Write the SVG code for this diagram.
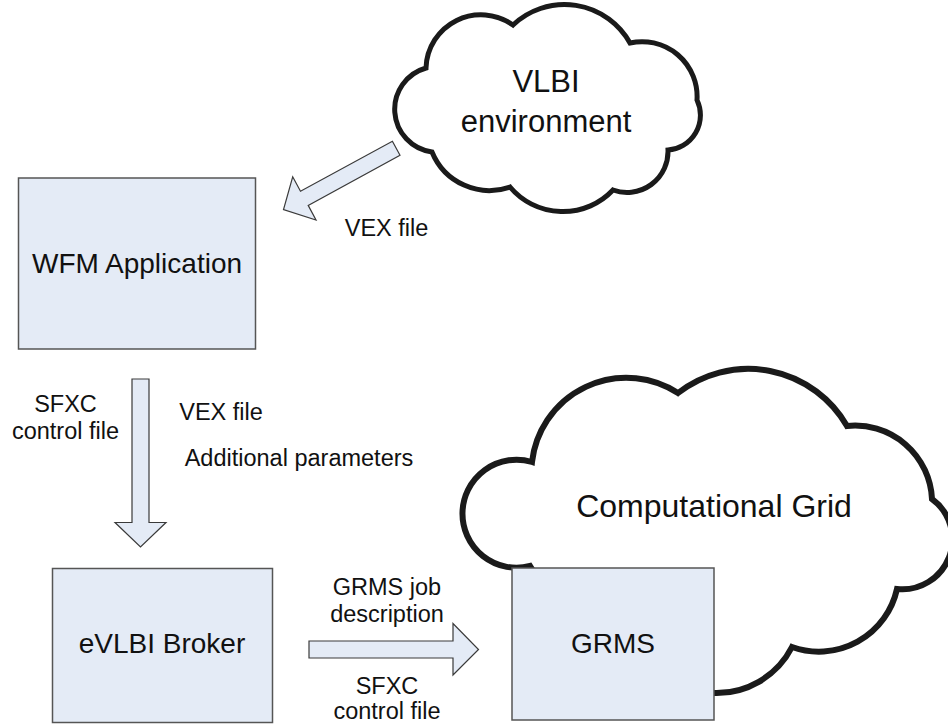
<svg xmlns="http://www.w3.org/2000/svg" width="948" height="724" viewBox="0 0 948 724">
  <style>
    text { font-family: "Liberation Sans", Arial, sans-serif; fill: #111; text-anchor: middle; }
    .big { font-size: 31px; }
    .mid { font-size: 28px; }
    .small { font-size: 23.5px; }
    .box { fill: #E4EBF6; stroke: #555; stroke-width: 1.5; }
    .arrow { fill: #E4EBF6; stroke: #3a3a3a; stroke-width: 1.2; stroke-linejoin: miter; }
    .cloud { fill: #fff; stroke: #1a1a1a; stroke-linejoin: miter; }
  </style>
  <rect width="948" height="724" fill="#fff"/>

  <!-- VLBI environment cloud -->
  <g id="vlbi-environment">
    <path class="cloud" stroke-width="5" d="M432,152 A43 43 0 0 1 426,68 A55 55 0 0 1 513,25 A75 75 0 0 1 630,43 A55 55 0 0 1 697,100 A35 35 0 0 1 668,150 A41 41 0 0 1 613,190 A69 69 0 0 1 510,187 A62 62 0 0 1 432,152 Z"/>
    <text class="big" x="546" y="92">VLBI</text>
    <text class="big" x="546" y="132">environment</text>
  </g>

  <!-- Computational Grid cloud, partly hidden behind the GRMS box -->
  <g id="computational-grid">
    <path class="cloud" stroke-width="6" d="M545,590 L530,566 A54 54 0 1 1 532,462 A95 95 0 0 1 678,393 A114 114 0 0 1 847,426 A77 77 0 0 1 932,499 A50 50 0 0 1 897,589 A80 80 0 0 1 792,647 A85 85 0 0 1 712,693 L640,700 Z"/>
    <text class="big" x="714" y="517" style="font-size:32px">Computational Grid</text>
  </g>

  <g id="wfm-application">
    <rect class="box" x="18.5" y="178" width="237" height="171"/>
    <text class="mid" x="137" y="273">WFM Application</text>
  </g>

  <g id="evlbi-broker">
    <rect class="box" x="52.5" y="568.5" width="220" height="154"/>
    <text class="mid" x="162" y="653">eVLBI Broker</text>
  </g>

  <g id="grms">
    <rect class="box" x="512" y="568" width="202" height="152"/>
    <text class="mid" x="613" y="653">GRMS</text>
  </g>

  <!-- block arrows between the nodes -->
  <g id="connectors">
    <polygon class="arrow" points="392.4,141.3 400,155.3 308.2,205.4 316,220 283.5,209.5 292.7,176.8 300.5,191.3"/>
    <polygon class="arrow" points="132,379 149,379 149,522.5 166,522.5 140.5,547 115,522.5 132,522.5"/>
    <polygon class="arrow" points="309,641 453,641 453,623.5 478.5,649.5 453,675 453,658 309,658"/>
  </g>

  <g id="labels">
    <text class="small" x="386.5" y="236">VEX file</text>
    <text class="small" x="65.5" y="412">SFXC</text>
    <text class="small" x="65.5" y="439">control file</text>
    <text class="small" x="221" y="420">VEX file</text>
    <text class="small" x="299" y="466">Additional parameters</text>
    <text class="small" x="387" y="595">GRMS job</text>
    <text class="small" x="387" y="622">description</text>
    <text class="small" x="387" y="694">SFXC</text>
    <text class="small" x="387" y="719">control file</text>
  </g>
</svg>
